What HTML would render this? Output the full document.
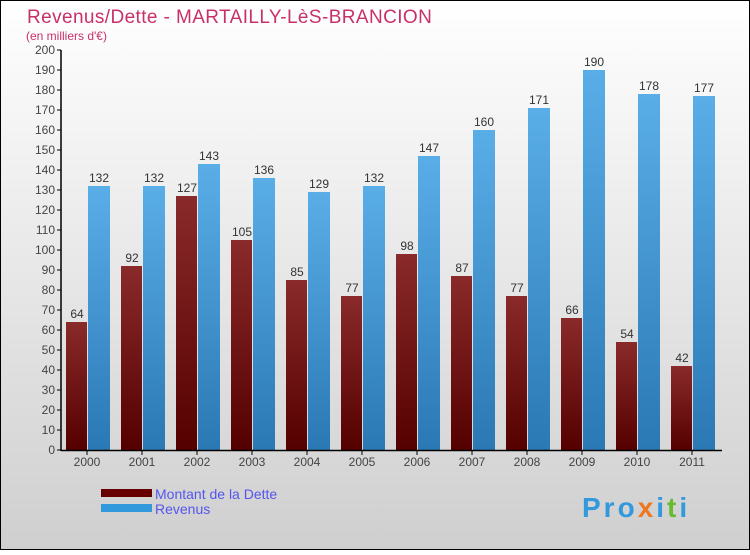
<!DOCTYPE html>
<html><head><meta charset="utf-8"><style>
body{margin:0;}
#c{width:750px;height:550px;position:relative;}
svg text{font-family:"Liberation Sans",sans-serif;}
</style></head><body>
<div id="c">
<svg id="s" width="750" height="550" xmlns="http://www.w3.org/2000/svg">
<defs>
<linearGradient id="bg" x1="0" y1="0" x2="0" y2="1"><stop offset="0" stop-color="#ffffff"/><stop offset="1" stop-color="#cfcfcf"/></linearGradient>
<linearGradient id="gd" x1="0" y1="0" x2="0" y2="1"><stop offset="0" stop-color="#8a2a2a"/><stop offset="1" stop-color="#550000"/></linearGradient>
<linearGradient id="gr" x1="0" y1="0" x2="0" y2="1"><stop offset="0" stop-color="#5aaee8"/><stop offset="1" stop-color="#2a78b4"/></linearGradient>
</defs>
<rect x="0.5" y="0.5" width="749" height="549" fill="url(#bg)" stroke="#000"/>
<text x="27" y="23" font-size="19" letter-spacing="0.4" fill="#c8306a">Revenus/Dette - MARTAILLY-LèS-BRANCION</text>
<text x="26" y="40" font-size="12" fill="#c8306a">(en milliers d'€)</text>
<g id="plot"></g>
<rect x="101" y="489" width="51" height="8" fill="#660000"/>
<rect x="101" y="504" width="51" height="8" fill="#3399dd"/>
<text x="155" y="499" font-size="14" fill="#5555ee">Montant de la Dette</text>
<text x="155" y="514" font-size="14" fill="#5555ee">Revenus</text>
<text x="582" y="517" font-size="28" font-weight="bold" letter-spacing="3" fill="#3399dd">Pro<tspan fill="#ee7722">x</tspan>i<tspan fill="#66bb33">t</tspan>i</text>
</svg></div>
<script>
const years=["2000","2001","2002","2003","2004","2005","2006","2007","2008","2009","2010","2011"];
const dette=[64,92,127,105,85,77,98,87,77,66,54,42];
const revenus=[132,132,143,136,129,132,147,160,171,190,178,177];
const yTicks=[0,10,20,30,40,50,60,70,80,90,100,110,120,130,140,150,160,170,180,190,200];
const NS="http://www.w3.org/2000/svg";
const g=document.getElementById('plot');
const y=v=>450-v*2;
const x0=i=>62+i*55;
function mk(t,a){const e=document.createElementNS(NS,t);for(const k in a)e.setAttribute(k,a[k]);g.appendChild(e);return e;}
yTicks.forEach(v=>{
 const l=mk('line',{x1:57,x2:61,y1:y(v),y2:y(v),stroke:'#000'});
 
 
 const t=mk('text',{x:55,y:y(v)+4,'font-size':12,'text-anchor':'end',fill:'#444'});t.textContent=v;
 
 
});
years.forEach((yr,i)=>{
 const b=x0(i);
 const d=mk('rect',{x:b+4,y:y(dette[i]),width:21,height:dette[i]*2,fill:'url(#gd)'});
 
 
 const r=mk('rect',{x:b+26,y:y(revenus[i]),width:22,height:revenus[i]*2,fill:'url(#gr)'});
 
 
 const t1=mk('text',{x:b+15,y:y(dette[i])-4,'font-size':12,'text-anchor':'middle',fill:'#333'});t1.textContent=dette[i];
 
 
 const t2=mk('text',{x:b+37,y:y(revenus[i])-4,'font-size':12,'text-anchor':'middle',fill:'#333'});t2.textContent=revenus[i];
 
 
 const tk=mk('line',{x1:b+25,x2:b+25,y1:450,y2:455,stroke:'#000'});
 
 
 const xl=mk('text',{x:b+25,y:466,'font-size':12,'text-anchor':'middle',fill:'#444'});xl.textContent=yr;
 
 
});
const ya=mk('line',{x1:61,x2:61,y1:50,y2:451,stroke:'#000','stroke-width':1.5});


const xa=mk('line',{x1:61,x2:722,y1:450.5,y2:450.5,stroke:'#000','stroke-width':1.5});


</script>
</body></html>
